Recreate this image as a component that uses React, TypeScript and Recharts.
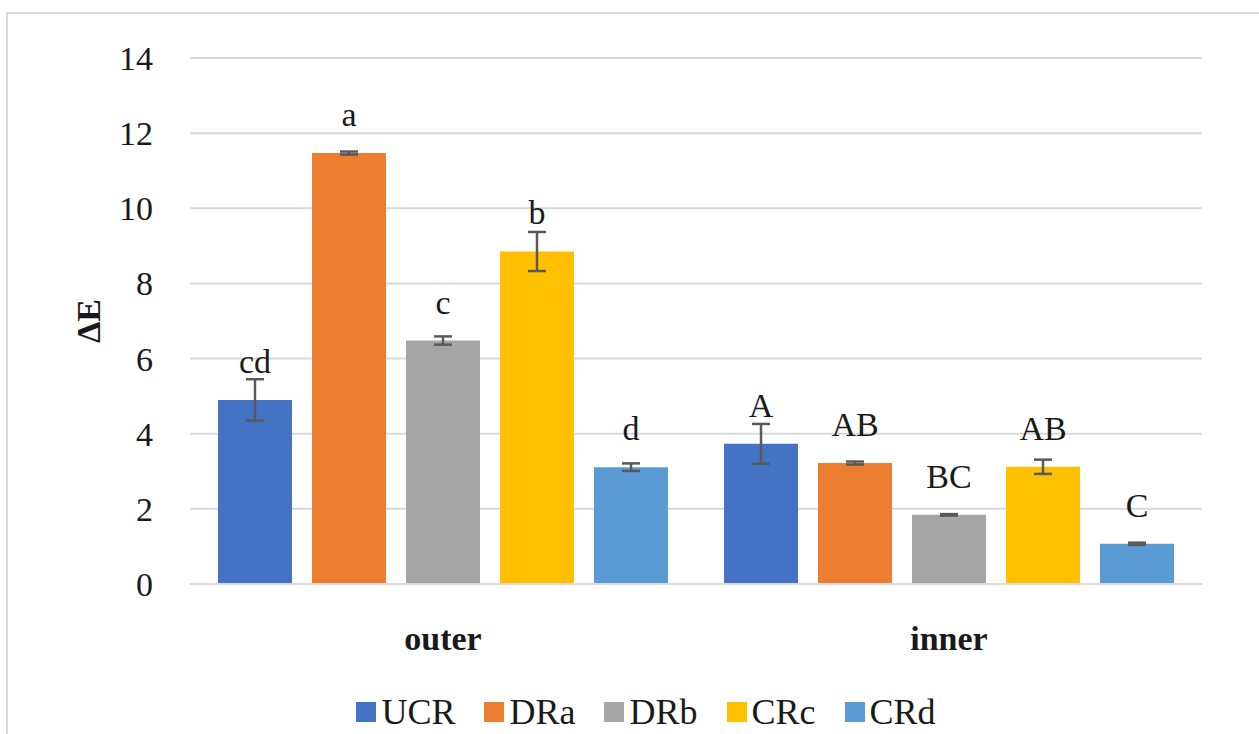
import React from "react";
import {
  BarChart, Bar, XAxis, YAxis, CartesianGrid, ErrorBar, LabelList, Legend,
} from "recharts";

const categories = ["outer", "inner"];
const seriesNames = ["UCR", "DRa", "DRb", "CRc", "CRd"];
const seriesColors = ["#4472C4", "#ED7D31", "#A5A5A5", "#FFC000", "#5B9BD5"];

// mean ΔE per series (outer, inner)
const ucrValues = [4.9, 3.73];
const draValues = [11.47, 3.22];
const drbValues = [6.48, 1.84];
const crcValues = [8.85, 3.12];
const crdValues = [3.11, 1.07];

// error bar half-lengths
const ucrErrors = [0.55, 0.53];
const draErrors = [0.04, 0.04];
const drbErrors = [0.11, 0.02];
const crcErrors = [0.52, 0.19];
const crdErrors = [0.1, 0.03];

// significance letters
const ucrLetters = ["cd", "A"];
const draLetters = ["a", "AB"];
const drbLetters = ["c", "BC"];
const crcLetters = ["b", "AB"];
const crdLetters = ["d", "C"];

const yTicks = [0, 2, 4, 6, 8, 10, 12, 14];

const allValues = [ucrValues, draValues, drbValues, crcValues, crdValues];
const allErrors = [ucrErrors, draErrors, drbErrors, crcErrors, crdErrors];
const allLetters = [ucrLetters, draLetters, drbLetters, crcLetters, crdLetters];

const data = categories.map((cat, i) => {
  const row: Record<string, string | number> = { cat };
  seriesNames.forEach((name, s) => {
    row[name] = allValues[s][i];
    row[`${name}_err`] = allErrors[s][i];
    row[`${name}_lbl`] = allLetters[s][i];
  });
  return row;
});

const FONT = "'Liberation Serif', 'Times New Roman', serif";
const INK = "#1a1a1a";

function LetterLabel(props: any) {
  const vb = props.viewBox || {};
  const x = props.x ?? vb.x;
  const y = props.y ?? vb.y;
  const width = props.width ?? vb.width;
  return (
    <text
      x={x + width / 2}
      y={y - 27}
      textAnchor="middle"
      fontFamily={FONT}
      fontSize={34}
      fill={INK}
    >
      {props.value}
    </text>
  );
}

function YLabel(props: any) {
  const vb = props.viewBox || { x: 60, y: 58, height: 526 };
  const cx = vb.x + 28;
  const cy = vb.y + vb.height / 2;
  return (
    <text
      transform={`translate(${cx},${cy}) rotate(-90)`}
      textAnchor="middle"
      dominantBaseline="central"
      fontFamily={FONT}
      fontWeight="bold"
      fontSize={34}
      fill={INK}
    >
      ΔE
    </text>
  );
}

function LegendRow() {
  return (
    <div style={{ display: "flex", justifyContent: "center", gap: 29, fontFamily: FONT, fontSize: 36, color: INK, lineHeight: "40px" }}>
      {seriesNames.map((name, s) => (
        <span key={name} style={{ display: "flex", alignItems: "center", gap: 5 }}>
          <span style={{ display: "inline-block", width: 20, height: 20, background: seriesColors[s] }} />
          <span>{name}</span>
        </span>
      ))}
    </div>
  );
}

export default function App() {
  return (
    <div style={{ position: "fixed", left: 0, top: 0, width: 1259, height: 734, background: "#fff", overflow: "hidden" }}>
      <div
        style={{
          position: "absolute", left: 6, top: 12, width: 1400, height: 900,
          borderLeft: "2px solid #d9d9d9", borderTop: "2px solid #d9d9d9",
        }}
      />
      <div style={{ position: "absolute", left: 0, top: 0 }}>
        <BarChart
          width={1259}
          height={734}
          data={data}
          margin={{ top: 58, right: 57, left: 60, bottom: 0 }}
          barCategoryGap={28}
          barGap={20}
        >
          <CartesianGrid vertical={false} stroke="#d9d9d9" strokeWidth={2} />
          <XAxis
            dataKey="cat"
            height={150}
            axisLine={{ stroke: "#d9d9d9", strokeWidth: 2 }}
            tickLine={false}
            tickSize={0}
            tickMargin={42}
            tick={{ fontFamily: FONT, fontSize: 34, fontWeight: "bold", fill: INK }}
          />
          <YAxis
            width={130}
            domain={[0, 14]}
            ticks={yTicks}
            axisLine={false}
            tickLine={false}
            tickSize={0}
            tickMargin={37}
            tick={{ fontFamily: FONT, fontSize: 34, fill: INK }}
            label={<YLabel />}
          />
          <Legend
            layout="horizontal"
            verticalAlign="middle"
            content={<LegendRow />}
            wrapperStyle={{ left: 0, width: 1292, top: 692 }}
          />
          {seriesNames.map((name, s) => (
            <Bar key={name} dataKey={name} fill={seriesColors[s]} isAnimationActive={false}>
              <ErrorBar
                dataKey={`${name}_err`}
                direction="y"
                width={9}
                stroke="#595959"
                strokeWidth={2.5}
                isAnimationActive={false}
              />
              <LabelList dataKey={`${name}_lbl`} content={<LetterLabel />} />
            </Bar>
          ))}
        </BarChart>
      </div>
    </div>
  );
}
